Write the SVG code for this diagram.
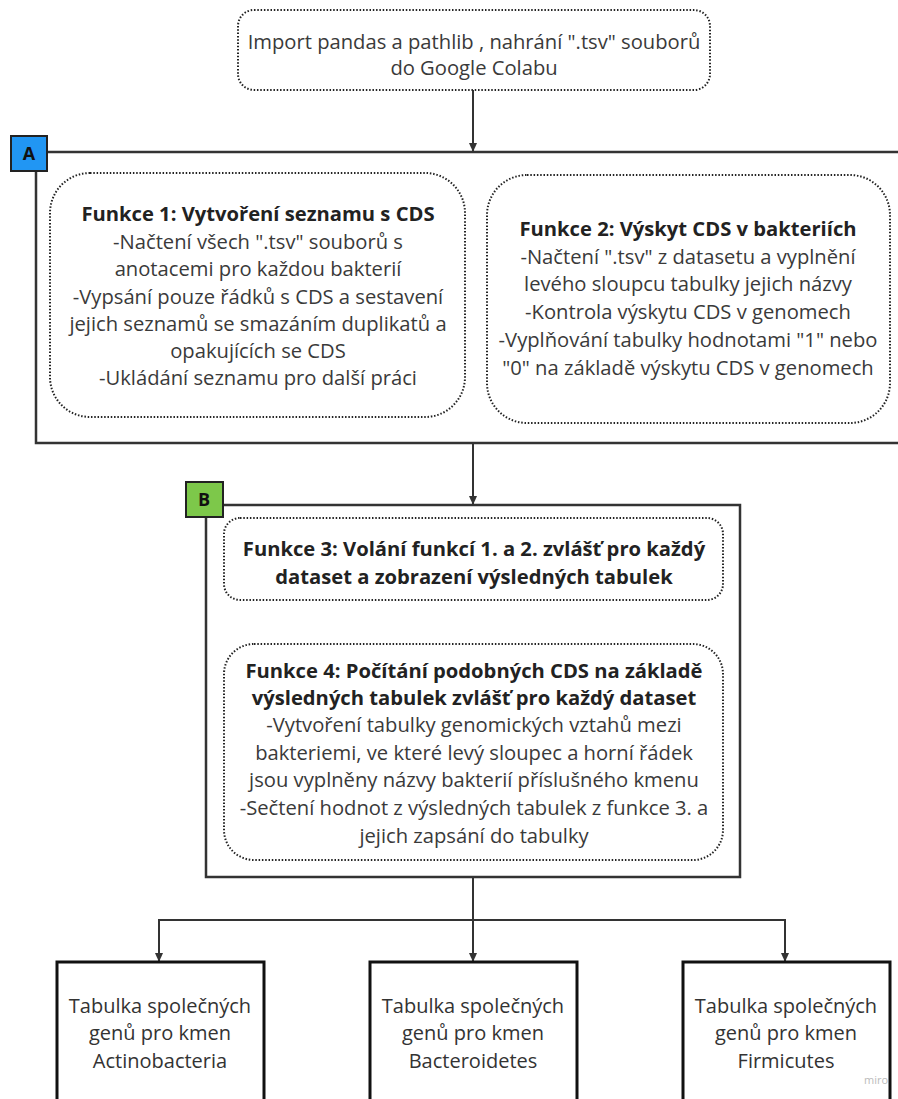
<svg xmlns="http://www.w3.org/2000/svg" width="898" height="1099" viewBox="0 0 898 1099">
<style>
.dot{fill:#fff;stroke:#222;stroke-width:2;stroke-dasharray:1.5 1.8}
.frame{fill:none;stroke:#333;stroke-width:2.5}
.t{font-family:"Open Sans","Noto Sans",sans-serif;font-size:20.2px;fill:#3a3a3a;text-anchor:middle}
.b{font-weight:bold;fill:#222}
.lab{font-family:"Open Sans","Noto Sans",sans-serif;font-size:18px;font-weight:bold;fill:#111;text-anchor:middle}
.tab{fill:#fff;stroke:#111;stroke-width:3}
.tt{font-family:"Open Sans","Noto Sans",sans-serif;font-size:20px;fill:#333;text-anchor:middle}
.con{fill:none;stroke:#333;stroke-width:2}
</style>
<defs>
<marker id="ah" markerWidth="10" markerHeight="10" refX="8" refY="5" orient="auto" markerUnits="userSpaceOnUse">
<path d="M0,1 L9,5 L0,9 z" fill="#333"/>
</marker>
</defs>
<rect width="898" height="1099" fill="#fff"/>

<g id="frameA">
<path class="frame" d="M898 152 H36 V443 H898"/>
<rect x="11" y="136" width="36" height="35" fill="#2196F3" stroke="#222" stroke-width="2"/>
<text class="lab" x="29" y="160">A</text>
</g>

<g id="frameB">
<rect class="frame" x="206" y="505" width="534" height="372"/>
<rect x="186" y="482" width="37" height="35" fill="#7DC84A" stroke="#222" stroke-width="2"/>
<text class="lab" x="204" y="506">B</text>
</g>

<g id="connectors">
<line class="con" x1="473" y1="90" x2="473" y2="151" marker-end="url(#ah)"/>
<line class="con" x1="473" y1="443" x2="473" y2="504" marker-end="url(#ah)"/>
<path class="con" d="M473 877 V920"/>
<path class="con" d="M159 961 V920 H785 V961" marker-end="url(#ah)"/>
<line class="con" x1="159" y1="930" x2="159" y2="961" marker-end="url(#ah)"/>
<line class="con" x1="473" y1="920" x2="473" y2="961" marker-end="url(#ah)"/>
</g>

<g id="import">
<rect class="dot" x="238" y="10" width="472" height="80" rx="16"/>
<text class="t" x="474" y="49">Import pandas a pathlib , nahrání ".tsv" souborů</text>
<text class="t" x="474" y="75">do Google Colabu</text>
</g>

<g id="funkce1">
<rect class="dot" x="50" y="173" width="415" height="244" rx="40"/>
<text class="t b" x="258" y="221">Funkce 1: Vytvoření seznamu s CDS</text>
<text class="t" x="258" y="249">-Načtení všech ".tsv" souborů s</text>
<text class="t" x="258" y="276">anotacemi pro každou bakterií</text>
<text class="t" x="258" y="304">-Vypsání pouze řádků s CDS a sestavení</text>
<text class="t" x="258" y="331">jejich seznamů se smazáním duplikatů a</text>
<text class="t" x="258" y="358">opakujících se CDS</text>
<text class="t" x="258" y="385">-Ukládání seznamu pro další práci</text>
</g>

<g id="funkce2">
<rect class="dot" x="487" y="175" width="403" height="248" rx="40"/>
<text class="t b" x="688" y="236">Funkce 2: Výskyt CDS v bakteriích</text>
<text class="t" x="688" y="264">-Načtení ".tsv" z datasetu a vyplnění</text>
<text class="t" x="688" y="291">levého sloupcu tabulky jejich názvy</text>
<text class="t" x="688" y="319">-Kontrola výskytu CDS v genomech</text>
<text class="t" x="688" y="347">-Vyplňování tabulky hodnotami "1" nebo</text>
<text class="t" x="688" y="375">"0" na základě výskytu CDS v genomech</text>
</g>

<g id="funkce3">
<rect class="dot" x="224" y="518" width="499" height="82" rx="16"/>
<text class="t b" x="474" y="556">Funkce 3: Volání funkcí 1. a 2. zvlášť pro každý</text>
<text class="t b" x="474" y="584">dataset a zobrazení výsledných tabulek</text>
</g>

<g id="funkce4">
<rect class="dot" x="224" y="644" width="499" height="216" rx="30"/>
<text class="t b" x="474" y="678">Funkce 4: Počítání podobných CDS na základě</text>
<text class="t b" x="474" y="705">výsledných tabulek zvlášť pro každý dataset</text>
<text class="t" x="474" y="732">-Vytvoření tabulky genomických vztahů mezi</text>
<text class="t" x="474" y="760">bakteriemi, ve které levý sloupec a horní řádek</text>
<text class="t" x="474" y="787">jsou vyplněny názvy bakterií příslušného kmenu</text>
<text class="t" x="474" y="815">-Sečtení hodnot z výsledných tabulek z funkce 3. a</text>
<text class="t" x="474" y="843">jejich zapsání do tabulky</text>
</g>

<g id="tab1">
<rect class="tab" x="57" y="962" width="207" height="150"/>
<text class="tt" x="160" y="1013">Tabulka společných</text>
<text class="tt" x="160" y="1040">genů pro kmen</text>
<text class="tt" x="160" y="1068">Actinobacteria</text>
</g>
<g id="tab2">
<rect class="tab" x="370" y="962" width="207" height="150"/>
<text class="tt" x="473" y="1013">Tabulka společných</text>
<text class="tt" x="473" y="1040">genů pro kmen</text>
<text class="tt" x="473" y="1068">Bacteroidetes</text>
</g>
<g id="tab3">
<rect class="tab" x="683" y="962" width="207" height="150"/>
<text class="tt" x="786" y="1013">Tabulka společných</text>
<text class="tt" x="786" y="1040">genů pro kmen</text>
<text class="tt" x="786" y="1068">Firmicutes</text>
</g>
<text x="876" y="1084" font-family="Open Sans, sans-serif" font-size="11" fill="#bbb" text-anchor="middle">miro</text>
</svg>
